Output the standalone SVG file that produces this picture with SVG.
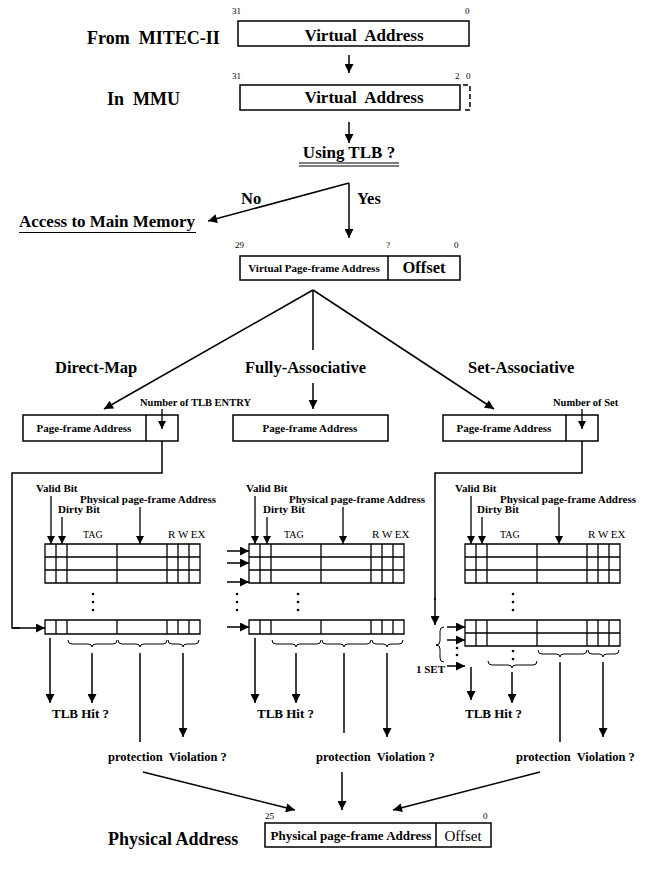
<svg xmlns="http://www.w3.org/2000/svg" width="647" height="871" viewBox="0 0 647 871">
<style>
text{font-family:"Liberation Serif","Times New Roman",serif;fill:#000}
.b{font-weight:bold}
.t18{font-size:18px;font-weight:bold}
.t17{font-size:17px;font-weight:bold}
.t16{font-size:16.5px;font-weight:bold}
.t13{font-size:13px;font-weight:bold}
.t12{font-size:12.5px;font-weight:bold}
.t11{font-size:11px;font-weight:bold}
.t10{font-size:10.5px;font-weight:bold}
.r11{font-size:11px}
.r10{font-size:10px}
.n{font-size:9px}
.box{fill:#fff;stroke:#000;stroke-width:1.5}
.ln{fill:none;stroke:#000;stroke-width:1.5}
.tl{fill:none;stroke:#000;stroke-width:1.3}
.br{fill:none;stroke:#000;stroke-width:1}
.ar{fill:none;stroke:#000;stroke-width:1.5;marker-end:url(#ah)}
.as{fill:none;stroke:#000;stroke-width:1.3;marker-end:url(#as)}
.dot{fill:#000}
</style>
<defs>
<marker id="ah" viewBox="0 0 10 10" refX="10" refY="5" markerWidth="11" markerHeight="9" orient="auto" markerUnits="userSpaceOnUse"><path d="M0,0 L10,5 L0,10 z"/></marker>
<marker id="as" viewBox="0 0 10 10" refX="10" refY="5" markerWidth="9" markerHeight="8" orient="auto" markerUnits="userSpaceOnUse"><path d="M0,0 L10,5 L0,10 z"/></marker>
</defs>

<g id="src">
<text class="t18" x="87" y="44" xml:space="preserve">From  MITEC-II</text>
<text class="n" x="232" y="14">31</text>
<text class="n" x="465" y="14">0</text>
<rect class="box" x="238" y="21" width="231" height="25"/>
<text class="t17" x="364" y="41" text-anchor="middle" xml:space="preserve">Virtual  Address</text>
</g>

<g id="mmu">
<text class="t18" x="107" y="105" xml:space="preserve">In  MMU</text>
<text class="n" x="232" y="79">31</text>
<text class="n" x="455" y="79">2</text>
<text class="n" x="466" y="79">0</text>
<rect class="box" x="240" y="85" width="220" height="25"/>
<path d="M463,85 H470 V110 H463" fill="none" stroke="#000" stroke-width="1.5" stroke-dasharray="5,3"/>
<text class="t17" x="364" y="103" text-anchor="middle" xml:space="preserve">Virtual  Address</text>
</g>

<g id="tlbq">
<text class="t17" x="349" y="158" text-anchor="middle">Using TLB ?</text>
<path class="br" d="M299,163 H399 M299,166 H399"/>
</g>

<g id="mainmem">
<text class="t17" x="19" y="227">Access to Main Memory</text>
<path class="br" d="M19,232.5 H196"/>
</g>

<g id="vpa">
<text class="n" x="235" y="248">29</text>
<text class="n" x="386" y="248">?</text>
<text class="n" x="454" y="248">0</text>
<rect class="box" x="240" y="256" width="220" height="24"/>
<line class="ln" x1="388" y1="256" x2="388" y2="280"/>
<text class="t11" x="314" y="272" text-anchor="middle">Virtual Page-frame Address</text>
<text class="t16" x="424" y="273" text-anchor="middle">Offset</text>
</g>

<g id="dm-title"><text class="t16" x="55" y="373">Direct-Map</text></g>
<g id="fa-title"><text class="t16" x="245" y="373">Fully-Associative</text></g>
<g id="sa-title"><text class="t16" x="468" y="373">Set-Associative</text></g>

<g id="dm-addr">
<text class="t10" x="140" y="406">Number of TLB ENTRY</text>
<rect class="box" x="23" y="415" width="155" height="26"/>
<line class="ln" x1="146" y1="415" x2="146" y2="441"/>
<text class="t11" x="84" y="432" text-anchor="middle">Page-frame Address</text>
</g>

<g id="fa-addr">
<rect class="box" x="233" y="415" width="155" height="26"/>
<text class="t11" x="310" y="432" text-anchor="middle">Page-frame Address</text>
</g>

<g id="sa-addr">
<text class="t10" x="553" y="406">Number of Set</text>
<rect class="box" x="443" y="415" width="155" height="26"/>
<line class="ln" x1="566" y1="415" x2="566" y2="441"/>
<text class="t11" x="504" y="432" text-anchor="middle">Page-frame Address</text>
</g>

<g id="dm-tlb">
<text class="t11" x="36" y="492">Valid Bit</text>
<text class="t11" x="80" y="503">Physical page-frame Address</text>
<text class="t11" x="58" y="513">Dirty Bit</text>
<text class="r10" x="83" y="538">TAG</text>
<text class="r11" x="168" y="538">R W EX</text>
<path class="tl" d="M45,544 H200 V583 H45 Z M45,557 H200 M45,570 H200 M56,544 V583 M67,544 V583 M117,544 V583 M167,544 V583 M178,544 V583 M189,544 V583"/>
<circle class="dot" cx="93" cy="594" r="1.3"/><circle class="dot" cx="93" cy="602" r="1.3"/><circle class="dot" cx="93" cy="610" r="1.3"/>
<path class="tl" d="M45,620 H200 V634 H45 Z M56,620 V634 M67,620 V634 M117,620 V634 M167,620 V634 M178,620 V634 M189,620 V634"/>
<path class="br" d="M68,640 q0,4 4,4 H88 q4,0 4,3 q0,-3 4,-3 H113 q4,0 4,-4 M118,640 q0,4 4,4 H136 q4,0 4,3 q0,-3 4,-3 H163 q4,0 4,-4 M168,640 q0,4 4,4 H179 q4,0 4,3 q0,-3 4,-3 H195 q4,0 4,-4"/>
<text class="t13" x="52" y="718">TLB Hit ?</text>
</g>

<g id="fa-tlb">
<text class="t11" x="246" y="492">Valid Bit</text>
<text class="t11" x="289" y="503">Physical page-frame Address</text>
<text class="t11" x="263" y="513">Dirty Bit</text>
<text class="r10" x="284" y="538">TAG</text>
<text class="r11" x="372" y="538">R W EX</text>
<path class="tl" d="M249,544 H404 V583 H249 Z M249,557 H404 M249,570 H404 M260,544 V583 M271,544 V583 M321,544 V583 M371,544 V583 M382,544 V583 M393,544 V583"/>
<circle class="dot" cx="237" cy="594" r="1.3"/><circle class="dot" cx="237" cy="602" r="1.3"/><circle class="dot" cx="237" cy="610" r="1.3"/>
<circle class="dot" cx="298" cy="594" r="1.3"/><circle class="dot" cx="298" cy="602" r="1.3"/><circle class="dot" cx="298" cy="610" r="1.3"/>
<path class="tl" d="M249,620 H404 V634 H249 Z M260,620 V634 M271,620 V634 M321,620 V634 M371,620 V634 M382,620 V634 M393,620 V634"/>
<path class="br" d="M272,640 q0,4 4,4 H292 q4,0 4,3 q0,-3 4,-3 H317 q4,0 4,-4 M322,640 q0,4 4,4 H340 q4,0 4,3 q0,-3 4,-3 H367 q4,0 4,-4 M372,640 q0,4 4,4 H383 q4,0 4,3 q0,-3 4,-3 H399 q4,0 4,-4"/>
<text class="t13" x="257" y="718">TLB Hit ?</text>
</g>

<g id="sa-tlb">
<text class="t11" x="455" y="492">Valid Bit</text>
<text class="t11" x="500" y="503">Physical page-frame Address</text>
<text class="t11" x="477" y="513">Dirty Bit</text>
<text class="r10" x="500" y="538">TAG</text>
<text class="r11" x="588" y="538">R W EX</text>
<path class="tl" d="M465,544 H620 V583 H465 Z M465,557 H620 M465,570 H620 M476,544 V583 M487,544 V583 M537,544 V583 M587,544 V583 M598,544 V583 M609,544 V583"/>
<circle class="dot" cx="513" cy="594" r="1.3"/><circle class="dot" cx="513" cy="602" r="1.3"/><circle class="dot" cx="513" cy="610" r="1.3"/>
<path class="tl" d="M465,620 H620 V646 H465 Z M465,633 H620 M476,620 V646 M487,620 V646 M537,620 V646 M587,620 V646 M598,620 V646 M609,620 V646"/>
<circle class="dot" cx="513" cy="651" r="1.3"/><circle class="dot" cx="513" cy="659" r="1.3"/>
<circle class="dot" cx="457" cy="648" r="1.3"/><circle class="dot" cx="457" cy="655" r="1.3"/>
<path class="br" d="M444,627 q-4,0 -4,4 V641 q0,4 -4,4 q4,0 4,4 V658 q0,4 4,4"/>
<text class="t11" x="416" y="673">1 SET</text>
<path class="br" d="M488,661 q0,4 4,4 H508 q4,0 4,3 q0,-3 4,-3 H533 q4,0 4,-4 M538,650 q0,4 4,4 H556 q4,0 4,3 q0,-3 4,-3 H583 q4,0 4,-4 M588,650 q0,4 4,4 H599 q4,0 4,3 q0,-3 4,-3 H615 q4,0 4,-4"/>
<text class="t13" x="465" y="718">TLB Hit ?</text>
</g>

<g id="pv1"><text class="t12" x="108" y="761" xml:space="preserve">protection  Violation ?</text></g>
<g id="pv2"><text class="t12" x="316" y="761" xml:space="preserve">protection  Violation ?</text></g>
<g id="pv3"><text class="t12" x="516" y="761" xml:space="preserve">protection  Violation ?</text></g>

<g id="pa">
<text class="t18" x="108" y="845">Physical Address</text>
<text class="n" x="265" y="819">25</text>
<text class="n" x="483" y="819">0</text>
<rect class="box" x="265" y="823" width="226" height="24"/>
<line class="ln" x1="436" y1="823" x2="436" y2="847"/>
<text class="t13" x="351" y="840" text-anchor="middle">Physical page-frame Address</text>
<text x="463" y="841" text-anchor="middle" font-size="15">Offset</text>
</g>

<g id="connectors">
<line class="ar" x1="349" y1="55" x2="349" y2="73"/>
<line class="ar" x1="349" y1="122" x2="349" y2="143"/>
<line class="ar" x1="349" y1="183" x2="208" y2="221"/>
<text class="t16" x="241" y="204">No</text>
<line class="ar" x1="349" y1="183" x2="349" y2="238"/>
<text class="t16" x="357" y="204">Yes</text>
<line class="ar" x1="313" y1="290" x2="104" y2="409"/>
<line class="ln" x1="313" y1="290" x2="313" y2="350"/>
<line class="ar" x1="313" y1="383" x2="313" y2="409"/>
<line class="ar" x1="313" y1="290" x2="494" y2="409"/>
<line class="as" x1="162" y1="409" x2="162" y2="429"/>
<line class="as" x1="582" y1="409" x2="582" y2="429"/>
<polyline class="ln" points="162,441 162,473 12,473 12,628 20,628"/>
<line class="ar" x1="12" y1="628" x2="45" y2="628"/>
<polyline class="ln" points="582,441 582,473 435,473 435,600"/>
<line class="ar" x1="435" y1="598" x2="435" y2="625"/>
<line class="as" x1="51" y1="496" x2="51" y2="544"/>
<line class="as" x1="62" y1="517" x2="62" y2="544"/>
<line class="as" x1="140" y1="507" x2="140" y2="544"/>
<line class="as" x1="255" y1="496" x2="255" y2="544"/>
<line class="as" x1="267" y1="517" x2="267" y2="544"/>
<line class="as" x1="343" y1="507" x2="343" y2="544"/>
<line class="as" x1="471" y1="496" x2="471" y2="544"/>
<line class="as" x1="482" y1="517" x2="482" y2="544"/>
<line class="as" x1="559" y1="507" x2="559" y2="544"/>
<line class="ar" x1="227" y1="551" x2="249" y2="551"/>
<line class="ar" x1="227" y1="563" x2="249" y2="563"/>
<line class="ar" x1="227" y1="582" x2="249" y2="582"/>
<line class="ar" x1="227" y1="627" x2="249" y2="627"/>
<line class="ar" x1="447" y1="627" x2="465" y2="627"/>
<line class="ar" x1="447" y1="640" x2="465" y2="640"/>
<line class="ar" x1="447" y1="666" x2="465" y2="666"/>
<line class="ar" x1="50" y1="638" x2="50" y2="703"/>
<line class="ar" x1="92" y1="653" x2="92" y2="703"/>
<line class="ln" x1="140" y1="653" x2="140" y2="742"/>
<line class="ar" x1="183" y1="653" x2="183" y2="737"/>
<line class="ar" x1="255" y1="638" x2="255" y2="703"/>
<line class="ar" x1="296" y1="653" x2="296" y2="703"/>
<line class="ln" x1="344" y1="653" x2="344" y2="733"/>
<line class="ar" x1="387" y1="653" x2="387" y2="737"/>
<line class="ar" x1="471" y1="667" x2="471" y2="700"/>
<line class="ar" x1="512" y1="672" x2="512" y2="703"/>
<line class="ln" x1="560" y1="662" x2="560" y2="742"/>
<line class="ar" x1="603" y1="662" x2="603" y2="737"/>
<line class="ar" x1="143" y1="772" x2="295" y2="810"/>
<line class="ar" x1="342" y1="772" x2="342" y2="810"/>
<line class="ar" x1="540" y1="772" x2="393" y2="810"/>
</g>
</svg>
